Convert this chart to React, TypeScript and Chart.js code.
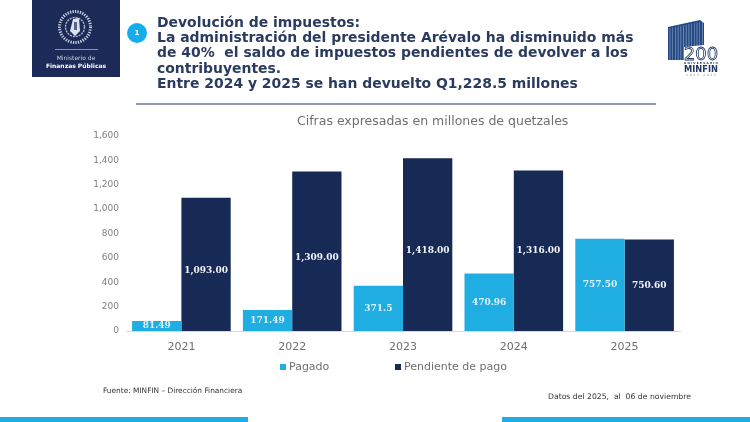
import React, { useEffect, useRef } from "react";
import { Chart, registerables } from "chart.js";

Chart.register(...registerables);

const years = ["2021", "2022", "2023", "2024", "2025"];
const pagado = [81.49, 171.49, 371.5, 470.96, 757.5];
const pendiente = [1093, 1309, 1418, 1316, 750.6];
const pagadoLabels = ["81.49", "171.49", "371.5", "470.96", "757.50"];
const pendienteLabels = ["1,093.00", "1,309.00", "1,418.00", "1,316.00", "750.60"];
const seriesNames = ["Pagado", "Pendiente de pago"];
const titleLines = [
  "Devolución de impuestos:",
  "La administración del presidente Arévalo ha disminuido más",
  "de 40%  el saldo de impuestos pendientes de devolver a los",
  "contribuyentes.",
  "Entre 2024 y 2025 se han devuelto Q1,228.5 millones",
];

const LIGHT = "#20AEE2";
const DARK = "#172955";
const GREY = "#7F7F7F";
const SANS = '"DejaVu Sans", Verdana, sans-serif';
// The tall dark-bar labels sit a little below the middle of their bars.
const labelNudge = [[0, 0, 0, 0, 0], [6.5, 6, 6, 0, 0]];

const valueLabels = {
  id: "valueLabels",
  afterDatasetsDraw(chart: any) {
    const { ctx } = chart;
    const texts = [pagadoLabels, pendienteLabels];
    ctx.save();
    ctx.font = 'bold 9px "DejaVu Serif", serif';
    ctx.textAlign = "center";
    ctx.textBaseline = "middle";
    chart.data.datasets.forEach((_: any, d: number) => {
      ctx.fillStyle = d === 0 ? "#DDF1FA" : "#F0F2F7";
      chart.getDatasetMeta(d).data.forEach((bar: any, i: number) => {
        ctx.fillText(texts[d][i], bar.x, (bar.y + bar.base) / 2 + labelNudge[d][i]);
      });
    });
    ctx.restore();
  },
};

const abs = (left: number, top: number, extra: React.CSSProperties = {}): React.CSSProperties => ({
  position: "absolute",
  left,
  top,
  ...extra,
});

function Crest() {
  return (
    <svg style={abs(55, 7)} width={40} height={40} viewBox="0 0 40 40">
      <circle cx={20} cy={20} r={15.5} fill="none" stroke="#C9D2E4" strokeWidth={3} strokeDasharray="1.3 1.2" />
      <circle cx={20} cy={20} r={9.5} fill="none" stroke="#AEB9D0" strokeWidth={1.4} strokeDasharray="2 1" />
      <path d="M18 12 L24 11 L25 24 L20 29 L15 24 Z" fill="#DDE3EE" />
      <path d="M19 15 L22 15 L22 23 L19 23 Z" fill="#55678F" />
    </svg>
  );
}

function Anniversary() {
  const stripes = [];
  for (let i = 0; i < 13; i++) {
    const x = 670 + i * 2.7;
    stripes.push(<line key={i} x1={x} y1={28 - i * 0.55} x2={x} y2={60} stroke="#fff" strokeWidth={0.6} opacity={0.55} />);
  }
  return (
    <svg style={abs(660, 15)} width={70} height={65} viewBox="660 15 70 65">
      <path d="M668 27 L700 20 L704 23 L704 45 L684 47 L684 60 L668 60 Z" fill="#234A85" />
      {stripes}
      <text x={701} y={60} textAnchor="middle" fontFamily={SANS} fontSize={18} fill="#fff" stroke="#1F3864" strokeWidth={0.8}>200</text>
      <text x={684} y={64} fontFamily={SANS} fontSize={2.8} fontWeight={700} fill="#1F3864" textLength={34}>ANIVERSARIO</text>
      <text x={684} y={72} fontFamily={SANS} fontSize={8} fontWeight={700} fill="#1F3864" textLength={34} lengthAdjust="spacingAndGlyphs">MINFIN</text>
      <text x={686} y={76} fontFamily={SANS} fontSize={3} fill="#6F7F9F" textLength={30}>1825   2025</text>
    </svg>
  );
}

export default function App() {
  const ref = useRef<HTMLCanvasElement>(null);

  useEffect(() => {
    const chart = new Chart(ref.current as HTMLCanvasElement, {
      type: "bar",
      data: {
        labels: years,
        datasets: [
          { label: seriesNames[0], data: pagado, backgroundColor: LIGHT },
          { label: seriesNames[1], data: pendiente, backgroundColor: DARK },
        ],
      },
      options: {
        responsive: false,
        animation: false,
        devicePixelRatio: 1,
        layout: { padding: { top: 136, right: 70, left: 0, bottom: 0 } },
        datasets: { bar: { categoryPercentage: 0.89, barPercentage: 1 } },
        plugins: { legend: { display: false }, title: { display: false }, tooltip: { enabled: false } },
        scales: {
          x: {
            grid: { display: false, drawTicks: false },
            border: { color: "#D9D9D9" },
            ticks: { color: "#6F6F6F", font: { family: SANS, size: 11 }, padding: 10 },
            afterFit: (s: any) => { s.height = 91; },
          },
          y: {
            min: 0,
            max: 1600,
            grid: { display: false, drawTicks: false },
            border: { display: false },
            ticks: {
              stepSize: 200,
              color: GREY,
              padding: 7,
              font: { family: SANS, size: 9 },
              callback: (v: any) => Number(v).toLocaleString("en-US"),
            },
            afterFit: (s: any) => { s.width = 126; },
          },
        },
      } as any,
      plugins: [valueLabels],
    });
    return () => chart.destroy();
  }, []);

  return (
    <div style={{ position: "fixed", left: 0, top: 0, width: 750, height: 422, overflow: "hidden", background: "#fff", fontFamily: SANS }}>
      <canvas ref={ref} width={750} height={422} style={abs(0, 0, { display: "block" })} />

      {/* Logo block */}
      <div style={abs(32, 0, { width: 88, height: 77, background: "#1B2A57" })} />
      <Crest />
      <div style={abs(55, 49, { width: 43, height: 1, background: "#6F9CCB" })} />
      <div style={abs(32, 54, { width: 88, textAlign: "center", color: "#C8D0E0", fontSize: 6, lineHeight: "7px" })}>Ministerio de</div>
      <div style={abs(32, 62, { width: 88, textAlign: "center", color: "#fff", fontSize: 6, lineHeight: "7px", fontWeight: 700 })}>Finanzas Públicas</div>

      {/* Badge */}
      <div style={abs(127, 23, { width: 20, height: 20, borderRadius: 10, background: "#16AEEA", color: "#fff", fontSize: 7, fontWeight: 700, lineHeight: "20px", textAlign: "center" })}>1</div>

      {/* Heading */}
      {titleLines.map((t, i) => (
        <div key={i} style={abs(157, 14 + i * 15.2, { color: "#2A3B5F", fontWeight: 700, fontSize: 13.95, lineHeight: "16px", whiteSpace: "pre" })}>{t}</div>
      ))}
      <div style={abs(136, 103, { width: 520, height: 1.5, background: "#8D99AE" })} />
      <Anniversary />

      {/* Subtitle */}
      <div style={abs(297, 113, { color: "#6F6F6F", fontSize: 12.5, lineHeight: "16px", whiteSpace: "pre" })}>Cifras expresadas en millones de quetzales</div>

      {/* Legend */}
      <div style={abs(280, 364, { width: 6, height: 6, background: LIGHT })} />
      <div style={abs(289, 360, { color: "#6F6F6F", fontSize: 11, lineHeight: "14px", whiteSpace: "pre" })}>{seriesNames[0]}</div>
      <div style={abs(395, 364, { width: 6, height: 6, background: DARK })} />
      <div style={abs(404, 360, { color: "#6F6F6F", fontSize: 11, lineHeight: "14px", whiteSpace: "pre" })}>{seriesNames[1]}</div>

      {/* Notes */}
      <div style={abs(103, 385, { color: "#333", fontSize: 7.4, lineHeight: "12px", whiteSpace: "pre" })}>Fuente: MINFIN – Dirección Financiera</div>
      <div style={abs(548, 391, { color: "#333", fontSize: 7.7, lineHeight: "12px", whiteSpace: "pre" })}>Datos del 2025,  al  06 de noviembre</div>

      {/* Footer bars */}
      <div style={abs(0, 417, { width: 248, height: 5, background: LIGHT })} />
      <div style={abs(502, 417, { width: 248, height: 5, background: LIGHT })} />
    </div>
  );
}
